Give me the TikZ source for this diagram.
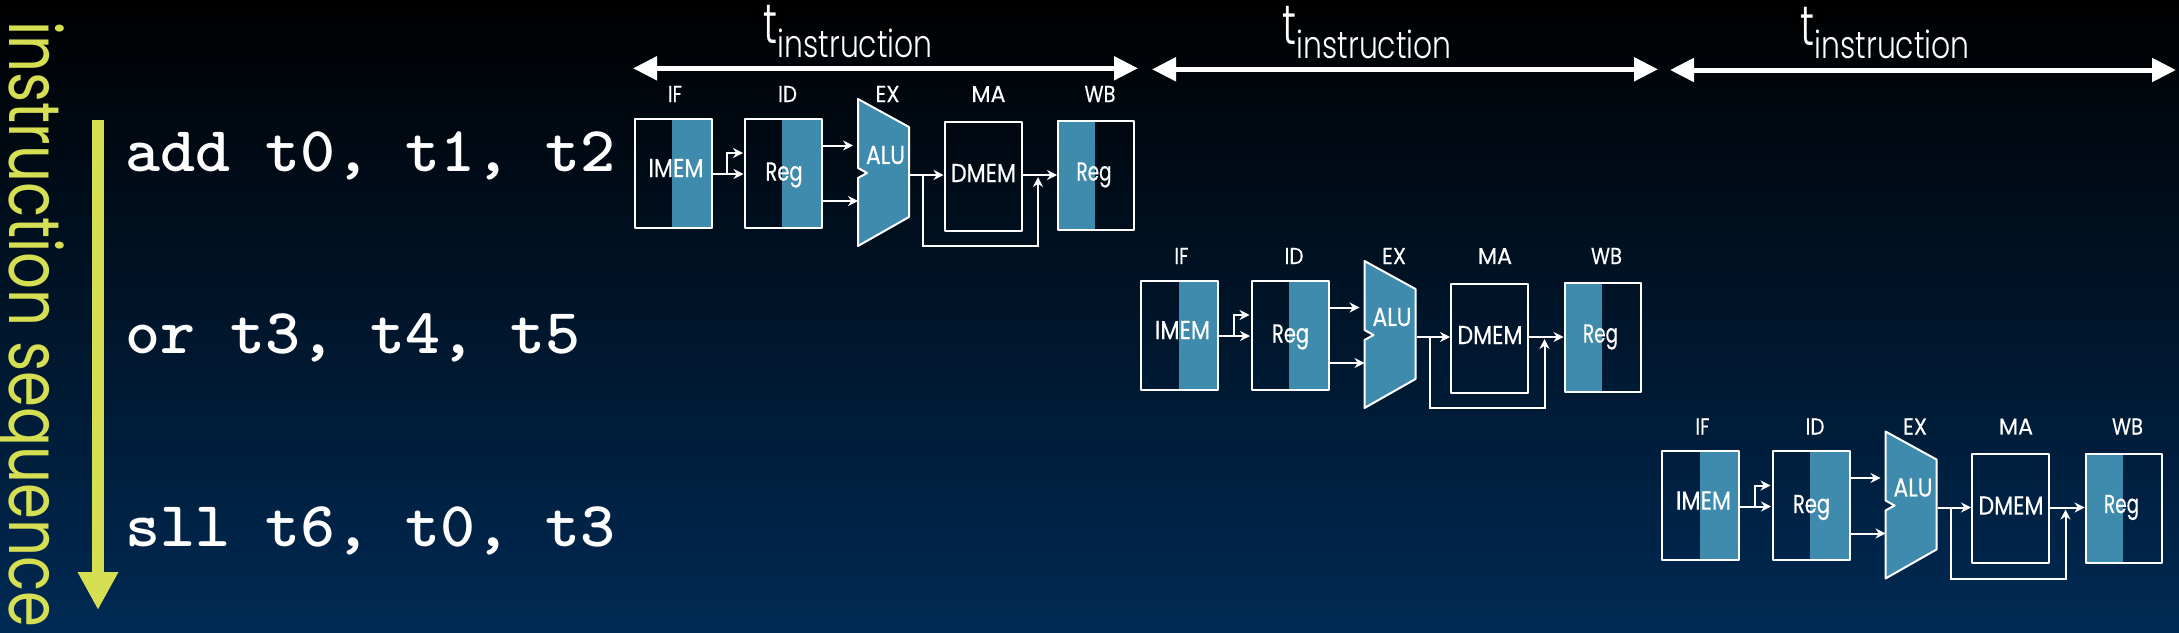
\documentclass[tikz,border=0pt]{standalone}
\usepackage{fontspec}
\usepackage{graphicx}
\usetikzlibrary{arrows.meta}
\setmainfont{Poppins Light}
\newfontfamily\regfont{Poppins}
\definecolor{stageblue}{RGB}{63,139,174}
\definecolor{seqyellow}{RGB}{214,222,82}
\definecolor{bgbottom}{RGB}{0,42,84}
\newcommand{\fitw}[2]{\resizebox{#1pt}{\height}{#2}}
\tikzset{
  x=1pt,y=-1pt,
  unit box/.style={draw=white,line width=2pt,minimum width=#1,minimum height=109,inner sep=0,line join=round},
  unit label/.style={text=white,inner sep=0,font=\regfont\addfontfeature{FakeBold=0.5}\fontsize{26}{26}\selectfont},
  stage label/.style={text=white,inner sep=0,font=\regfont\addfontfeature{FakeBold=0.3}\fontsize{23}{23}\selectfont},
  wire/.style={draw=white,line width=2pt,-{Stealth[length=10pt,width=10pt]}},
  spanarrow/.style={draw=white,line width=5pt,{Triangle[length=24pt,width=23pt]}-{Triangle[length=24pt,width=23pt]}},
  codetext/.style={text=white,inner sep=0,anchor=base west,font=\ttfamily\bfseries\addfontfeature{FakeBold=0.7}\fontsize{64}{64}\selectfont},
}
\newcommand{\stageblock}[3]{%
\begin{scope}[shift={(#2,#3)}]
  \fill[stageblue] (672,118) rectangle (711,228);
  \fill[stageblue] (782,118) rectangle (821,228);
  \fill[stageblue] (1057,120) rectangle (1095,229);
  \node[unit box=77,anchor=north west] (#1imem) at (633.5,117.5) {};
  \node[unit box=77,anchor=north west] (#1reg) at (744,117.5) {};
  \node[unit box=77,anchor=north west] (#1dmem) at (943.5,120.5) {};
  \node[unit box=76,anchor=north west] (#1wb) at (1057,120) {};
  \draw[white,line width=2pt,fill=stageblue,line join=round] (858,99) -- (909,127) -- (909,217) -- (858,246) -- (858,178) -- (867,173) -- (858,168) -- cycle;
  \coordinate (#1aluout) at (910,175);
  \coordinate (#1aluinA) at (853,145.5);
  \coordinate (#1aluinB) at (858,201);
  \coordinate (#1regoutA) at (#1reg.east |- #1aluinA);
  \coordinate (#1regoutB) at (#1reg.east |- #1aluinB);
  \coordinate (#1ifout) at (711,174);
  \coordinate (#1regin) at (743.5,174);
  \coordinate (#1fork) at (727,174);
  \coordinate (#1forkup) at (727,153);
  \coordinate (#1regtop) at (743,153);
  \coordinate (#1exfork) at (923,175);
  \coordinate (#1fwdA) at (923,246);
  \coordinate (#1fwdB) at (1038,246);
  \coordinate (#1fwdC) at (1038,177);
  \coordinate (#1dmemin) at (#1dmem.west |- #1aluout);
  \coordinate (#1dmemout) at (#1dmem.east |- #1aluout);
  \coordinate (#1wbin) at (#1wb.west |- #1aluout);
  \node[unit label] (#1imemtxt) at (676,168) {\fitw{55}{IMEM}};
  \node[unit label] (#1regtxt) at (784,175) {\fitw{37}{Reg}};
  \node[unit label] (#1dmemtxt) at (983.5,173) {\fitw{65}{DMEM}};
  \node[unit label] (#1wbtxt) at (1094,175) {\fitw{35}{Reg}};
  \node[unit label] (#1alutxt) at (885.5,155) {\fitw{39}{ALU}};
  \node[stage label] (#1if) at (675,94) {\fitw{14}{IF}};
  \node[stage label] (#1id) at (787.5,94) {\fitw{19}{ID}};
  \node[stage label] (#1ex) at (887.5,94) {\fitw{24}{EX}};
  \node[stage label] (#1ma) at (988.5,94) {\fitw{34}{MA}};
  \node[stage label] (#1wbl) at (1100,94) {\fitw{31}{WB}};
  \draw[wire] (#1ifout) -- (#1regin);
  \draw[wire] (#1fork) -- (#1forkup) -- (#1regtop);
  \draw[wire] (#1regoutA) -- (#1aluinA);
  \draw[wire] (#1regoutB) -- (#1aluinB);
  \draw[wire] (#1aluout) -- (#1dmemin);
  \draw[wire] (#1exfork) -- (#1fwdA) -- (#1fwdB) -- (#1fwdC);
  \draw[wire] (#1dmemout) -- (#1wbin);
\end{scope}}
\newcommand{\spanlabel}[4]{%
  \coordinate (#1L) at (#2,{68.3+#4});
  \coordinate (#1R) at (#3,{68.3+#4});
  \draw[spanarrow] (#1L) -- (#1R);
  \node[text=white,inner sep=0,anchor=base west,font=\fontsize{56}{56}\selectfont] (#1t) at ({#2+130.5},{43.5+#4}) {\fitw{14}{t}};
  \node[text=white,inner sep=0,anchor=base west,font=\fontsize{38}{38}\selectfont] (#1sub) at ({#2+144.5},{57+#4}) {\fitw{155}{instruction}};
}
\begin{document}
\begin{tikzpicture}
  \useasboundingbox (0,0) rectangle (2179,632);
  \shade[shading=axis,shading angle=0,bottom color=bgbottom,top color=black] (0,0) rectangle (2179,632);
  \spanlabel{spanA}{633}{1138}{0}
  \spanlabel{spanB}{1152}{1658}{1}
  \spanlabel{spanC}{1670}{2176}{1.7}
  \stageblock{a}{0}{0}
  \stageblock{b}{506.5}{162}
  \stageblock{c}{1027.5}{332.5}
  \node[codetext] (cmdA) at (125,171) {\fitw{490}{add t0, t1, t2}};
  \node[codetext] (cmdB) at (125,353.5) {\fitw{455}{or t3, t4, t5}};
  \node[codetext] (cmdC) at (125,546) {\fitw{490}{sll t6, t0, t3}};
  \coordinate (seqtop) at (98,120);
  \coordinate (seqtip) at (98,610);
  \draw[seqyellow,line width=12.5pt,-{Triangle[length=38pt,width=38pt]}] (seqtop) -- (seqtip);
  \node[text=seqyellow,inner sep=0,rotate=-90,anchor=base west,font=\regfont\fontsize{72}{72}\selectfont] (seqtxt) at (10,21) {\fitw{606}{instruction sequence}};
\end{tikzpicture}
\end{document}
